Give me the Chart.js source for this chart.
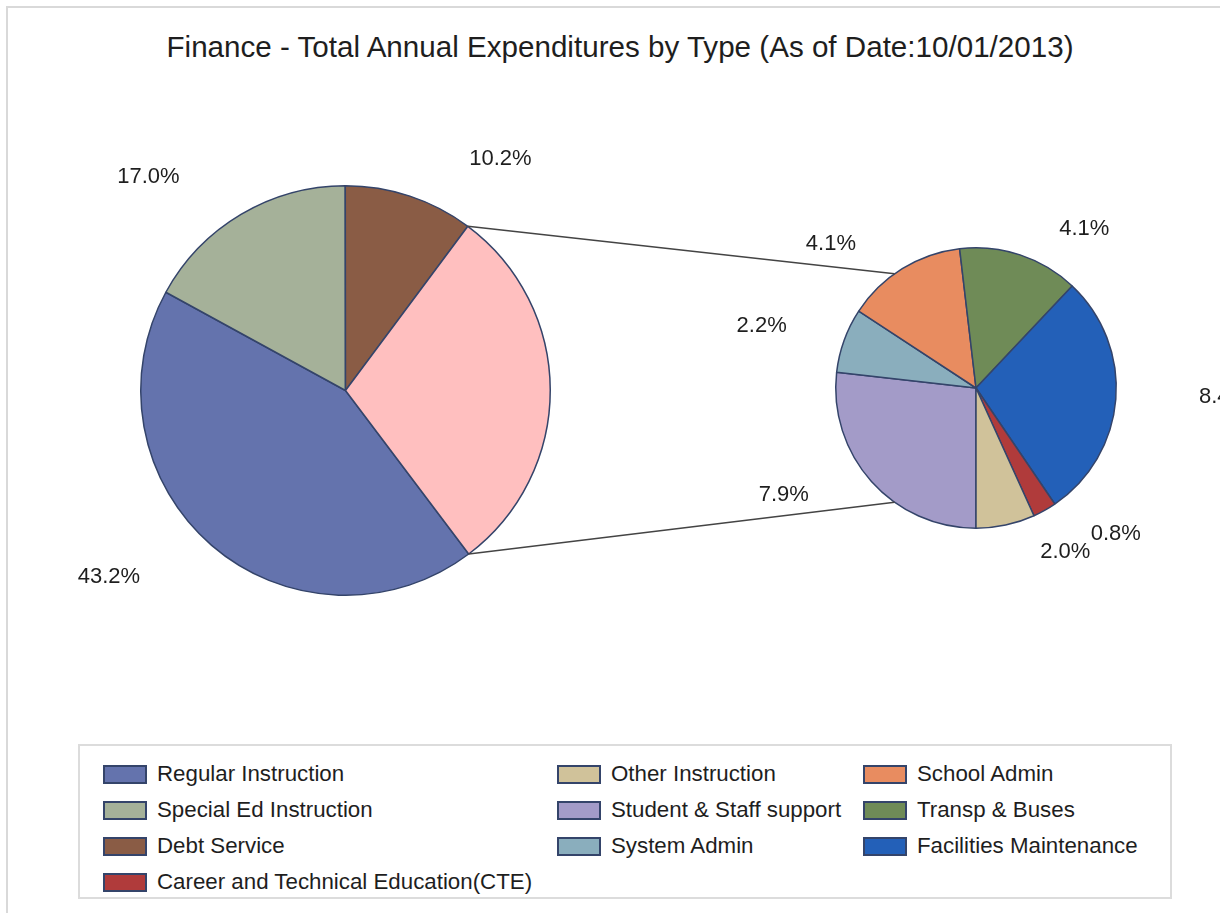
<!DOCTYPE html>
<html>
<head>
<meta charset="utf-8">
<script src="https://cdn.jsdelivr.net/npm/chart.js@4/dist/chart.umd.min.js"></script>
<style>
    body { margin: 0; background: #fff; overflow: hidden; font-family: 'Liberation Sans', Arial, sans-serif; }
    #frame { position: absolute; left: 6px; top: 6px; width: 1260px; height: 1000px; border: 2px solid #d9d9d9; }
    #titulo { position: absolute; left: 0; top: 29px; width: 1240px; text-align: center; font-size: 29.6px; line-height: 36px; color: #1e1e1e; }
    canvas { position: absolute; left: 0; top: 0; }
    #legenda { position: absolute; left: 78px; top: 744px; width: 1094px; height: 155px; border: 2px solid #dcdcdc; box-sizing: border-box; }
    .coluna { position: absolute; top: 10px; }
    .item { height: 36px; display: flex; align-items: center; font-size: 22.3px; color: #1e1e1e; white-space: nowrap; }
    .caixa { width: 44px; height: 19px; border: 2px solid #34446a; box-sizing: border-box; margin-right: 10px; }
</style>
</head>
<body>
<div id="frame"></div>
<div id="titulo">Finance - Total Annual Expenditures by Type (As of Date:10/01/2013)</div>
<canvas id="pizzaPrincipal" width="1220" height="740"></canvas>
<canvas id="pizzaSecundaria" width="1220" height="740"></canvas>
<div id="legenda"></div>

<script>
// main pie (the last slice is split out into the second pie)
const mainLabels = ['Regular Instruction', 'Special Ed Instruction', 'Debt Service', 'Other'];
const mainValues = [43.2, 17.0, 10.2, 29.5];

// second pie, clockwise from the bottom
const subLabels = ['Student & Staff support', 'System Admin', 'School Admin', 'Transp & Buses',
    'Facilities Maintenance', 'Career and Technical Education(CTE)', 'Other Instruction'];
const subValues = [7.9, 2.2, 4.1, 4.1, 8.4, 0.8, 2.0];

// legend, read column by column
const legendCol1 = ['Regular Instruction', 'Special Ed Instruction', 'Debt Service', 'Career and Technical Education(CTE)'];
const legendCol2 = ['Other Instruction', 'Student & Staff support', 'System Admin'];
const legendCol3 = ['School Admin', 'Transp & Buses', 'Facilities Maintenance'];

const cores = {
    'Regular Instruction': '#6473ad',
    'Special Ed Instruction': '#a5b199',
    'Debt Service': '#8a5c45',
    'Other': '#ffbfbf',
    'Student & Staff support': '#a39bc8',
    'System Admin': '#8aaebd',
    'School Admin': '#e88c60',
    'Transp & Buses': '#6f8b57',
    'Facilities Maintenance': '#2360b8',
    'Career and Technical Education(CTE)': '#b03b3b',
    'Other Instruction': '#d0c29a'
};

// where each % label sits: [degrees from the slice middle, distance in radii]
const mainLabelPos = [[11, 1.47], [-12, 1.42], [15.5, 1.36], null];
const subLabelPos = [[12.6, 1.57], [-3.8, 1.59], [-13.4, 1.46], [16, 1.37], [-2.4, 1.77], [-14.5, 1.44], [-16.4, 1.33]];

const fonte = "22px 'Liberation Sans', Arial, sans-serif";
const borda = '#34446a';

function rotulosPlugin(posicoes) {
    return {
        id: 'rotulos',
        afterDatasetsDraw(chart) {
            const ctx = chart.ctx;
            const meta = chart.getDatasetMeta(0);
            const valores = chart.data.datasets[0].data;
            ctx.save();
            ctx.font = fonte;
            ctx.fillStyle = '#1e1e1e';
            ctx.textAlign = 'center';
            ctx.textBaseline = 'middle';
            meta.data.forEach((arc, i) => {
                const pos = posicoes[i];
                if (!pos) return;
                const p = arc.getProps(['x', 'y', 'startAngle', 'endAngle', 'outerRadius'], true);
                const ang = (p.startAngle + p.endAngle) / 2 + pos[0] * Math.PI / 180;
                const r = p.outerRadius * pos[1];
                ctx.fillText(valores[i].toFixed(1) + '%', p.x + r * Math.cos(ang), p.y + r * Math.sin(ang));
            });
            ctx.restore();
        }
    };
}

function opcoes(padding, rotacao) {
    return {
        responsive: false,
        animation: false,
        events: [],
        rotation: rotacao,
        layout: { padding: padding },
        plugins: {
            legend: { display: false },
            tooltip: { enabled: false },
            title: { display: false }
        }
    };
}

const principal = new Chart(document.getElementById('pizzaPrincipal').getContext('2d'), {
    type: 'pie',
    data: {
        labels: mainLabels,
        datasets: [{
            data: mainValues,
            backgroundColor: mainLabels.map(l => cores[l]),
            borderColor: borda,
            borderWidth: 1.5
        }]
    },
    options: opcoes({ left: 140, top: 185, right: 669, bottom: 144 }, 143),
    plugins: [rotulosPlugin(mainLabelPos)]
});

// lines from the split slice to the second pie
const ligacoesPlugin = {
    id: 'ligacoes',
    afterDatasetsDraw(chart) {
        const fatia = principal.getDatasetMeta(0).data[3].getProps(['x', 'y', 'startAngle', 'endAngle', 'outerRadius'], true);
        const sub = chart.getDatasetMeta(0).data[0].getProps(['x', 'y', 'outerRadius'], true);
        const ctx = chart.ctx;
        const abertura = 54.5 * Math.PI / 180;
        const pares = [
            [fatia.startAngle, Math.PI + abertura],
            [fatia.endAngle, Math.PI - abertura]
        ];
        ctx.save();
        ctx.strokeStyle = '#444';
        ctx.lineWidth = 1.5;
        pares.forEach(([a1, a2]) => {
            ctx.beginPath();
            ctx.moveTo(fatia.x + fatia.outerRadius * Math.cos(a1), fatia.y + fatia.outerRadius * Math.sin(a1));
            ctx.lineTo(sub.x + sub.outerRadius * Math.cos(a2), sub.y + sub.outerRadius * Math.sin(a2));
            ctx.stroke();
        });
        ctx.restore();
    }
};

new Chart(document.getElementById('pizzaSecundaria').getContext('2d'), {
    type: 'pie',
    data: {
        labels: subLabels,
        datasets: [{
            data: subValues,
            backgroundColor: subLabels.map(l => cores[l]),
            borderColor: borda,
            borderWidth: 1.5
        }]
    },
    options: opcoes({ left: 835, top: 247, right: 103, bottom: 211 }, 180),
    plugins: [rotulosPlugin(subLabelPos), ligacoesPlugin]
});

// legend
const legenda = document.getElementById('legenda');
const colunasX = [23, 477, 783];
[legendCol1, legendCol2, legendCol3].forEach((coluna, c) => {
    const div = document.createElement('div');
    div.className = 'coluna';
    div.style.left = colunasX[c] + 'px';
    coluna.forEach(nome => {
        const item = document.createElement('div');
        item.className = 'item';
        const caixa = document.createElement('div');
        caixa.className = 'caixa';
        caixa.style.background = cores[nome];
        item.appendChild(caixa);
        item.appendChild(document.createTextNode(nome));
        div.appendChild(item);
    });
    legenda.appendChild(div);
});
</script>
</body>
</html>
